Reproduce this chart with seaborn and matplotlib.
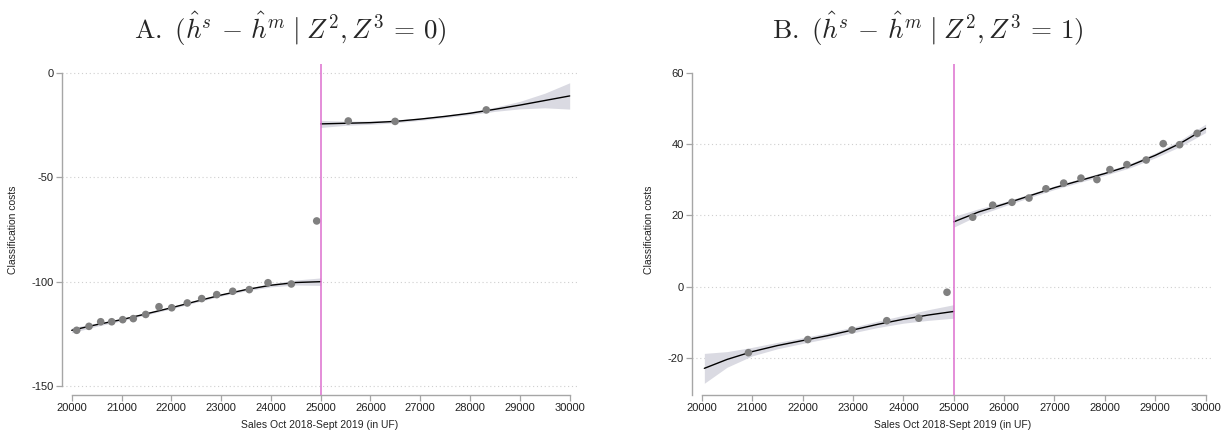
import matplotlib
matplotlib.use("Agg")
import matplotlib.pyplot as plt
import seaborn as sns
import pandas as pd
import numpy as np

# ---------------- data ----------------
# Panel A: binned means
a_bin_x = [20100, 20347, 20582, 20803, 21024, 21237, 21486, 21753, 22008, 22321,
           22610, 22912, 23233, 23566, 23942, 24410, 24920,
           25554, 26494, 28325]
a_bin_y = [-123.3, -121.4, -119.2, -119.2, -118.2, -117.7, -115.7, -112.0, -112.5, -110.2,
           -108.1, -106.2, -104.6, -103.8, -100.5, -101.1, -70.9,
           -23.0, -23.2, -17.7]
# Panel A: fitted polynomial (left / right of cutoff) and CI half-widths
a_fitL_x = [20000, 20500, 21000, 21500, 22000, 22500, 23000, 23500, 24000, 24500, 25000]
a_fitL_y = [-123.3, -120.6, -118.2, -115.4, -112.5, -109.4, -106.4, -103.8, -101.7, -100.4, -100.0]
a_fitL_ci = [1.2, 0.8, 0.6, 0.5, 0.5, 0.5, 0.5, 0.6, 0.8, 1.2, 1.8]
a_fitR_x = [25000, 25500, 26000, 26500, 27000, 27500, 28000, 28500, 29000, 29500, 30000]
a_fitR_y = [-24.4, -24.1, -23.8, -23.2, -22.1, -20.8, -19.3, -17.4, -15.4, -13.2, -11.0]
a_fitR_ci = [1.7, 1.0, 0.8, 0.7, 0.6, 0.6, 0.7, 1.0, 1.8, 3.5, 6.3]

# Panel B: binned means
b_bin_x = [20925, 22103, 22982, 23671, 24306, 24867,
           25377, 25774, 26157, 26494, 26831, 27183, 27526, 27843, 28101, 28438,
           28821, 29159, 29484, 29833]
b_bin_y = [-18.6, -14.9, -12.2, -9.6, -8.9, -1.6,
           19.5, 22.9, 23.7, 24.9, 27.5, 29.1, 30.5, 30.1, 32.9, 34.3,
           35.6, 40.2, 39.9, 43.1]
b_fitL_x = [20050, 20500, 21000, 21500, 22000, 22500, 23000, 23500, 24000, 24500, 25000]
b_fitL_y = [-23.0, -20.5, -18.3, -16.6, -15.2, -13.8, -12.2, -10.6, -9.2, -8.0, -7.0]
b_fitL_ci = [4.2, 2.2, 1.2, 0.9, 0.8, 0.8, 0.8, 0.9, 1.1, 1.5, 1.9]
b_fitR_x = [25000, 25500, 26000, 26500, 27000, 27500, 28000, 28500, 29000, 29500, 30000]
b_fitR_y = [18.2, 21.0, 23.2, 25.5, 27.8, 29.8, 31.8, 34.0, 36.9, 40.3, 44.5]
b_fitR_ci = [1.5, 0.9, 0.6, 0.5, 0.5, 0.5, 0.5, 0.6, 0.7, 0.9, 1.2]

cutoff = 25000
titles = [r"$\mathrm{A.}\ (\hat{h}^s \,-\, \hat{h}^m\;|\;Z^2, Z^3\,=\,0)$",
          r"$\mathrm{B.}\ (\hat{h}^s \,-\, \hat{h}^m\;|\;Z^2, Z^3\,=\,1)$"]
xlabel = "Sales Oct 2018-Sept 2019 (in UF)"
ylabel = "Classification costs"
x_ticks = [20000, 21000, 22000, 23000, 24000, 25000, 26000, 27000, 28000, 29000, 30000]
a_yticks = [0, -50, -100, -150]
b_yticks = [-20, 0, 20, 40, 60]

# ---------------- style ----------------
sns.set_theme(style="white")
plt.rcParams["font.family"] = ["Liberation Sans", "DejaVu Sans"]
plt.rcParams["mathtext.fontset"] = "cm"

PT_COL = "#808080"
BAND_COL = "#dadae2"
CUT_COL = "#dc6fce"
SPINE_COL = "#a6a6a6"
GRID_COL = "#cfcfcf"

fig = plt.figure(figsize=(12.23, 4.32), dpi=100)
W, H = 1223, 432
ax_a = fig.add_axes([62.3 / W, 37 / H, 514.7 / W, 331 / H])
ax_b = fig.add_axes([692.3 / W, 37 / H, 520.7 / W, 331 / H])

panels = [
    (ax_a, a_bin_x, a_bin_y, (a_fitL_x, a_fitL_y, a_fitL_ci), (a_fitR_x, a_fitR_y, a_fitR_ci),
     a_yticks, (-154.3, 4.3), (-150, 0)),
    (ax_b, b_bin_x, b_bin_y, (b_fitL_x, b_fitL_y, b_fitL_ci), (b_fitR_x, b_fitR_y, b_fitR_ci),
     b_yticks, (-30.5, 62.6), (-30.5, 60)),
]

for i, (ax, bx, by, fl, fr, yt, ylim, ybounds) in enumerate(panels):
    # grid lines (dotted) at y ticks
    for v in yt:
        if v == max(yt) and i == 1:
            continue
        ax.axhline(v, color=GRID_COL, lw=0.8, ls=(0, (1, 2.5)), zorder=0)

    for fx, fy, fci in (fl, fr):
        df = pd.DataFrame({"x": fx, "y": fy, "ci": fci})
        ax.fill_between(df["x"], df["y"] - df["ci"], df["y"] + df["ci"],
                        color=BAND_COL, lw=0, zorder=1)
        sns.lineplot(data=df, x="x", y="y", ax=ax, color="black", lw=1.0, zorder=3)

    pts = pd.DataFrame({"x": bx, "y": by})
    sns.scatterplot(data=pts, x="x", y="y", ax=ax, color=PT_COL, s=30,
                    edgecolor="none", zorder=4)

    ax.axvline(cutoff, color=CUT_COL, lw=1.1, zorder=5)

    ax.set_xlim(19811, 30147)
    ax.set_ylim(*ylim)
    ax.set_xticks(x_ticks)
    ax.set_yticks(yt)
    ax.set_xticklabels([str(t) for t in x_ticks])
    ax.set_yticklabels([str(t) for t in yt])

    for s in ("top", "right"):
        ax.spines[s].set_visible(False)
    for s in ("left", "bottom"):
        ax.spines[s].set_color(SPINE_COL)
        ax.spines[s].set_linewidth(1.0)
    ax.spines["bottom"].set_bounds(20000, 30000)
    ax.spines["left"].set_bounds(*ybounds)

    ax.tick_params(axis="both", which="major", direction="out", length=4, width=0.9,
                   color=SPINE_COL, labelsize=8, labelcolor="#222222", pad=2,
                   bottom=True, left=True)
    ax.set_xlabel(xlabel, fontsize=7.5, color="#222222", labelpad=5)
    ax.set_ylabel(ylabel, fontsize=7.5, color="#222222", labelpad=10)

fig.text(290 / W, 1 - 29 / H, titles[0], ha="center", va="center", fontsize=19.5)
fig.text(928 / W, 1 - 29 / H, titles[1], ha="center", va="center", fontsize=19.5)

fig.savefig("out.png", dpi=100)
